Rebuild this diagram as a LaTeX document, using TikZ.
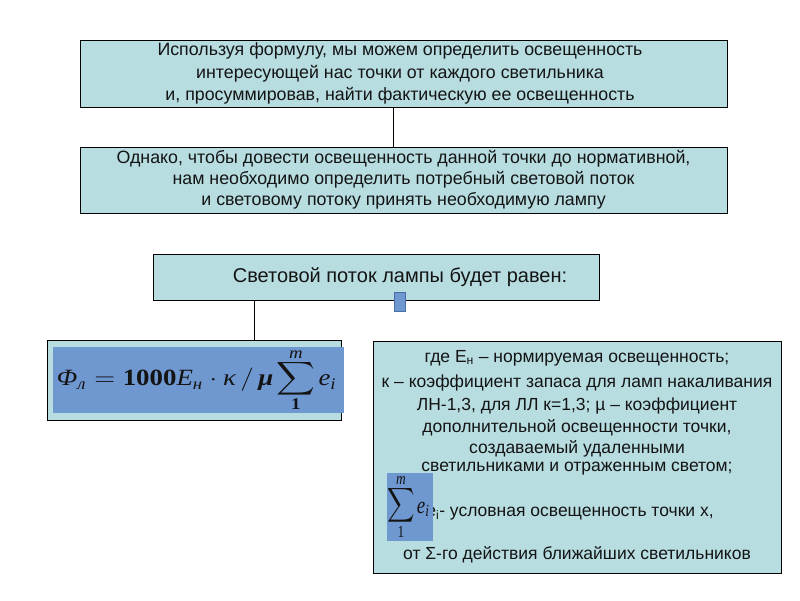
\documentclass[tikz,border=0pt]{standalone}
\usepackage{amsmath}
\usepackage{graphicx}
\usepackage{fontspec}
\setmainfont{Liberation Sans}
\newfontfamily\serifcyr{Liberation Serif}
\usetikzlibrary{calc}
\definecolor{boxfill}{RGB}{183,221,225}
\definecolor{innerblue}{RGB}{111,151,208}
\definecolor{rimblue}{RGB}{70,110,170}
\definecolor{ink}{RGB}{20,20,20}
\newcommand{\serit}[1]{\text{\serifcyr\itshape #1}}
\newcommand{\serbf}[1]{\text{\serifcyr\bfseries #1}}
\newcommand{\stacksum}[2]{\mathop{\vcenter{\offinterlineskip
  \hbox{\makebox[13.5pt]{\scriptsize #1}}\kern0.5pt
  \hbox{\makebox[13.5pt]{$\displaystyle\sum$}}\kern0.5pt
  \hbox{\makebox[13.5pt]{\scriptsize #2}}}}}
\tikzset{
  box/.style={draw=black, line width=0.9pt, fill=boxfill, inner sep=0pt, outer sep=0pt},
  bluebox/.style={fill=innerblue, draw=none, inner sep=0pt, outer sep=0pt},
  txt/.style={text=ink, inner sep=0pt, align=center},
  wire/.style={draw=black, line width=0.8pt}
}
\begin{document}
\begin{tikzpicture}[x=1pt,y=-1pt]
\useasboundingbox (0,0) rectangle (800,600);
% boxes
\node[box, minimum width=647pt, minimum height=67pt] (b1) at (403.5,73.5) {};
\node[box, minimum width=647pt, minimum height=66pt] (b2) at (403.5,180) {};
\node[box, minimum width=446pt, minimum height=46pt] (b3) at (376,277) {};
\node[box, minimum width=294pt, minimum height=80pt] (b4) at (194,380) {};
\node[bluebox, minimum width=291pt, minimum height=66pt] (f) at (198.5,380) {};
\node[txt] (fx) at (197,380)
  {\resizebox*{280pt}{58pt}{$\displaystyle \serit{Φ}_{\serit{л}} = \serbf{1000}\serit{E}_{\serit{н}} \cdot \serit{κ} \,/\, \text{\serifcyr\bfseries\itshape μ}\stacksum{\serifcyr\itshape m}{\serifcyr\bfseries 1}\serit{e}_{\serit{i}}$}};
\node[box, minimum width=408pt, minimum height=232pt] (b5) at (577,457) {};
% texts
\node[txt, font=\fontsize{17.8}{22.5}\selectfont] (t1) at (400,73.5)
  {Используя формулу, мы можем определить освещенность\\интересующей нас точки от каждого светильника\\и, просуммировав, найти фактическую ее освещенность};
\node[txt, font=\fontsize{17.8}{21}\selectfont] (t2) at (b2.center)
  {Однако, чтобы довести освещенность данной точки до нормативной,\\нам необходимо определить потребный световой поток\\и световому потоку принять необходимую лампу};
\node[txt, font=\fontsize{20}{24}\selectfont] (t3) at (400,277) {Световой поток лампы будет равен:};
\begin{scope}[every node/.style={txt, font=\fontsize{17.5}{21}\selectfont}]
\node (l1) at (577,358) {где Е\textsubscript{н} – нормируемая освещенность;};
\node (l2) at (577,383) {к – коэффициент запаса для ламп накаливания};
\node (l3) at (577,406) {ЛН-1,3, для ЛЛ к=1,3; µ – коэффициент};
\node (l4) at (577,428) {дополнительной освещенности точки,};
\node (l5) at (577,449) {создаваемый удаленными};
\node (l6) at (577,469) {светильниками и отраженным светом;};
\node (l7) at (570,514) {e\textsubscript{i}- условная освещенность точки х,};
\node (l8) at (577,555) {от Σ-го действия ближайших светильников};
\end{scope}
% small sum box
\node[bluebox, minimum width=46pt, minimum height=68pt] (s) at (410,507) {};
\node[txt] (sx) at (409,507)
  {\resizebox*{42pt}{60pt}{$\stacksum{\serifcyr\itshape m}{\serifcyr 1}\serit{e}_{\serit{i}}$}};
% small marker
\node[draw=rimblue, fill=innerblue, line width=0.6pt, minimum width=11pt, minimum height=19pt, inner sep=0pt] (mk) at (399.5,302) {};
% connectors
\coordinate (c1) at (393,0);
\coordinate (c2) at (254,0);
\draw[wire] (b1.south -| c1) -- (b2.north -| c1);
\draw[wire] (b3.south -| c2) -- (b4.north -| c2);
\end{tikzpicture}
\end{document}
